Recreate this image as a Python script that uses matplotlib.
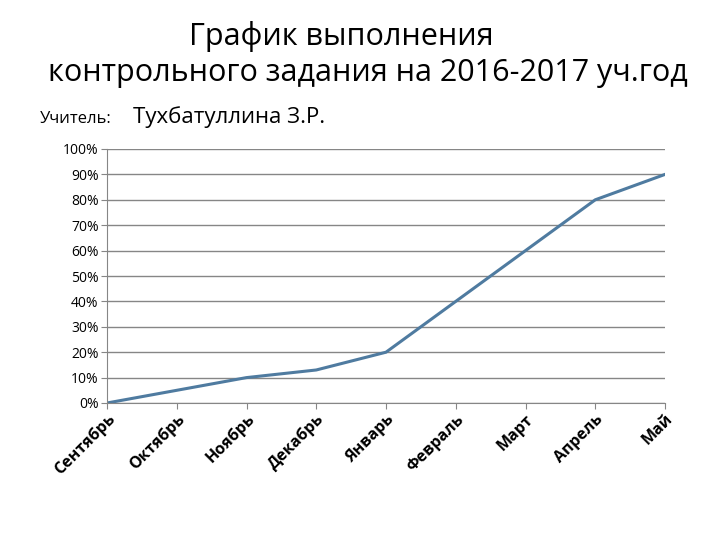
import matplotlib as mpl
mpl.use('Agg')
import matplotlib.pyplot as plt
from matplotlib.ticker import PercentFormatter

plt.rcParams['font.family'] = ['Open Sans', 'DejaVu Sans']

months = ['Сентябрь', 'Октябрь', 'Ноябрь', 'Декабрь', 'Январь',
          'Февраль', 'Март', 'Апрель', 'Май']
done_pct = [0, 5, 10, 13, 20, 40, 60, 80, 90]

fig = plt.figure(figsize=(7.2, 5.4), dpi=100)
ax = fig.add_axes([107/720, 1 - 403/540, (665 - 107)/720, (403 - 149)/540])

x = range(len(months))
ax.plot(x, done_pct, color='#4F7BA0', linewidth=2.2, solid_joinstyle='round')

ax.set_xlim(0, len(months) - 1)
ax.set_ylim(0, 100)
ax.set_yticks(range(0, 101, 10))
ax.yaxis.set_major_formatter(PercentFormatter(decimals=0))
ax.set_xticks(list(x))
ax.set_xticklabels(months, rotation=45, ha='right', va='top',
                   rotation_mode='anchor', fontsize=11.5, fontweight='bold')
ax.tick_params(axis='y', labelsize=10, length=4, color='#868686', pad=2)
ax.tick_params(axis='x', length=4, color='#868686', pad=2)
ax.grid(axis='y', color='#868686', linewidth=1)
ax.set_axisbelow(True)
for s in ['top', 'right']:
    ax.spines[s].set_visible(False)
for s in ['left', 'bottom']:
    ax.spines[s].set_color('#868686')

fig.text(341/720, 1 - 37/540, 'График выполнения', fontsize=22,
         ha='center', va='center')
fig.text(48/720, 1 - 73/540, 'контрольного задания на 2016-2017 уч.год',
         fontsize=22, ha='left', va='center')
fig.text(40/720, 1 - 119/540, 'Учитель:', fontsize=12, ha='left', va='center')
fig.text(133/720, 1 - 117/540, 'Тухбатуллина З.Р.', fontsize=16,
         ha='left', va='center')

fig.savefig('out.png', dpi=100)
